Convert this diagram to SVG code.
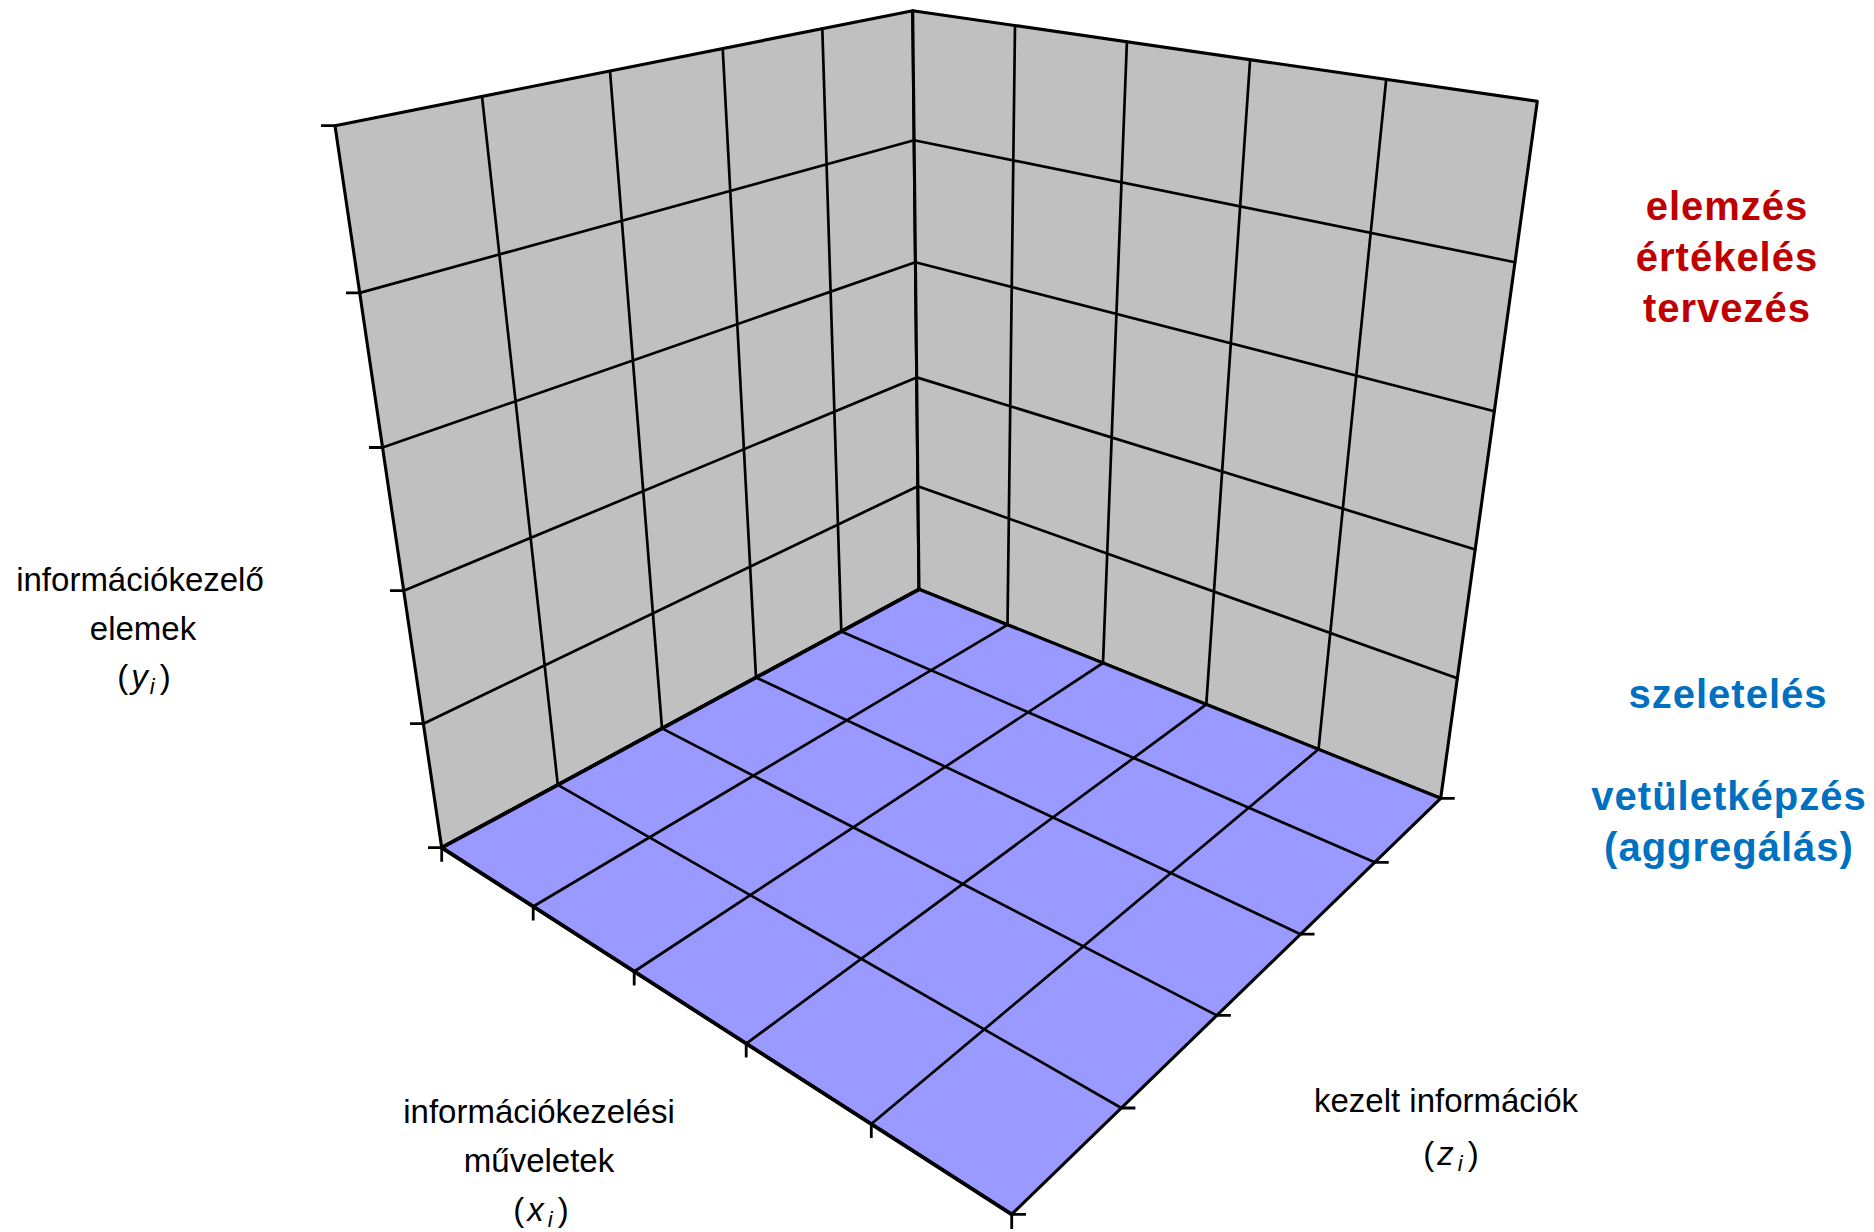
<svg xmlns="http://www.w3.org/2000/svg" width="1874" height="1232" viewBox="0 0 1874 1232">
<style>
.wall{fill:#C0C0C0;stroke:none}
.floor{fill:#9999FF;stroke:none}
.grid{fill:none;stroke:#000;stroke-width:2.7;stroke-linecap:round;stroke-linejoin:round}
.edge{fill:none;stroke:#000;stroke-width:3.1;stroke-linejoin:round;stroke-linecap:round}
.tick{fill:none;stroke:#000;stroke-width:2.8}
.lbl{font-family:"Liberation Sans",Arial,sans-serif;font-size:33px;fill:#000;text-anchor:middle}
.red{font-family:"Liberation Sans",Arial,sans-serif;font-size:40px;font-weight:bold;fill:#C00000;text-anchor:middle;letter-spacing:1px}
.blue{font-family:"Liberation Sans",Arial,sans-serif;font-size:40px;font-weight:bold;fill:#0070C0;text-anchor:middle;letter-spacing:1px}
</style>
<g id="left-wall">
<polygon class="wall" points="335,125.7 912.7,10.7 919,589.3 441.7,847.7"/>
<path class="grid" d="M841.3,631.4 L822.3,28.7 M756,677.5 L722.7,48.5 M662,728.4 L610,71 M557.8,784.8 L482,96.4 M917.9,486.2 L423.4,723.7 M916.7,377.4 L403.7,590.7 M915.4,262.2 L382.5,447.5 M914.1,140.2 L359.7,292.9"/>
<polygon class="edge" points="335,125.7 912.7,10.7 919,589.3 441.7,847.7"/>
</g>
<g id="right-wall">
<polygon class="wall" points="912.7,10.7 1537.3,101.3 1440.7,798.3 919,589.3"/>
<path class="grid" d="M1007.5,624.8 L1015,25.5 M1103,663 L1126.9,41.8 M1206.3,704.4 L1250.1,59.6 M1318.5,749.3 L1386.2,79.4 M917.9,486.2 L1457.3,678.2 M916.7,377.4 L1475.2,549.5 M915.4,262.2 L1494.4,411.2 M914.1,140.2 L1515,262.2"/>
<polygon class="edge" points="912.7,10.7 1537.3,101.3 1440.7,798.3 919,589.3"/>
</g>
<g id="floor">
<polygon class="floor" points="919,589.3 441.7,847.7 1011.7,1214.3 1440.7,798.3"/>
<path class="grid" d="M1007.5,624.8 L533.2,906.5 M1103,663 L634.2,971.5 M1206.3,704.4 L746.2,1043.6 M1318.5,749.3 L871.3,1124 M841.3,631.4 L1374.7,862.3 M756,677.5 L1300.5,934.2 M662,728.4 L1216.8,1015.4 M557.8,784.8 L1121.4,1108"/>
<polygon class="edge" points="919,589.3 441.7,847.7 1011.7,1214.3 1440.7,798.3"/>
<path class="edge" style="stroke-width:3.8" d="M441.7,847.7 L1011.7,1214.3 M919,589.3 L441.7,847.7"/>
</g>
<g id="connectors">
<path class="tick" d="M321,125.7 H335 M346,292.9 H359.7 M369,447.5 H382.5 M390,590.7 H403.7 M410,723.7 H423.4 M428,847.7 H441.7"/>
<path class="tick" d="M441.7,847.7 V861.7 M533.2,906.5 V920.5 M634.2,971.5 V985.5 M746.2,1043.6 V1057.6 M871.3,1124 V1138 M1011.7,1214.3 V1229"/>
<path class="tick" d="M1440.7,798.3 H1454.7 M1374.7,862.3 H1388.7 M1300.5,934.2 H1314.5 M1216.8,1015.4 H1230.8 M1121.4,1108 H1135.4 M1011.7,1214.3 H1026"/>
</g>
<g id="label-y">
<text class="lbl" x="140" y="591">információkezelő</text>
<text class="lbl" x="143" y="640">elemek</text>
<text class="lbl" x="144" y="688">(<tspan font-style="italic" dx="3">y</tspan><tspan font-style="italic" font-size="22" dy="6" dx="2">i</tspan><tspan dy="-6" dx="5">)</tspan></text>
</g>
<g id="label-x">
<text class="lbl" x="539" y="1123">információkezelési</text>
<text class="lbl" x="539" y="1172">műveletek</text>
<text class="lbl" x="541" y="1221">(<tspan font-style="italic" dx="3">x</tspan><tspan font-style="italic" font-size="22" dy="6" dx="4">i</tspan><tspan dy="-6" dx="5">)</tspan></text>
</g>
<g id="label-z">
<text class="lbl" x="1446" y="1112">kezelt információk</text>
<text class="lbl" x="1451" y="1165">(<tspan font-style="italic" dx="3">z</tspan><tspan font-style="italic" font-size="22" dy="6" dx="4">i</tspan><tspan dy="-6" dx="5">)</tspan></text>
</g>
<g id="label-red">
<text class="red" x="1727" y="220">elemzés</text>
<text class="red" x="1727" y="271">értékelés</text>
<text class="red" x="1727" y="322">tervezés</text>
</g>
<g id="label-blue">
<text class="blue" x="1728" y="708">szeletelés</text>
<text class="blue" x="1729" y="810">vetületképzés</text>
<text class="blue" x="1729" y="861">(aggregálás)</text>
</g>
</svg>
